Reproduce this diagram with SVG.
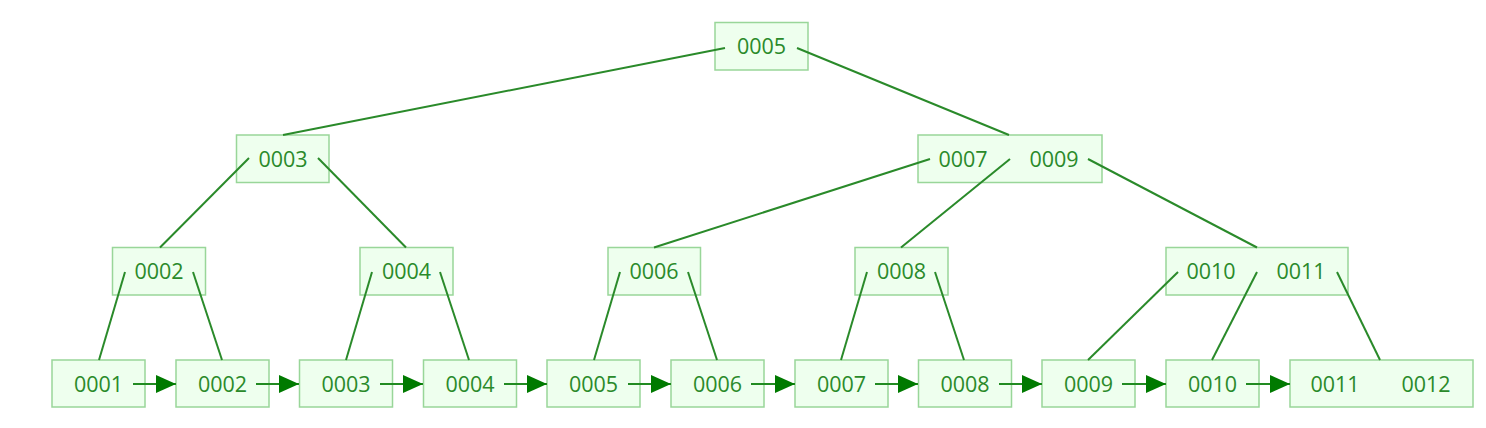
<svg xmlns="http://www.w3.org/2000/svg" width="1486" height="428" viewBox="0 0 1486 428">
<style>
.box{fill:#eeffee;stroke:#99d699;stroke-width:1.5}
.t{font-family:"Open Sans","Noto Sans","DejaVu Sans",sans-serif;font-size:21.5px;fill:#2a8a2a;text-anchor:middle}
.e{stroke:#2a8a2a;stroke-width:2;fill:none}
.a{stroke:#228b22;stroke-width:2;fill:none;marker-end:url(#ah)}
</style>
<defs>
<marker id="ah" markerUnits="userSpaceOnUse" markerWidth="21" markerHeight="20" refX="20" refY="10" orient="auto">
<path d="M0,1 L20,10 L0,19 Z" fill="#007a00"/>
</marker>
</defs>
<rect width="1486" height="428" fill="#ffffff"/>
<g id="n_root"><rect class="box" x="715" y="22.5" width="93" height="47.5"/><text class="t" x="761.5" y="54">0005</text></g>
<g id="n_0003"><rect class="box" x="236.5" y="135" width="92.5" height="47.5"/><text class="t" x="283" y="166.5">0003</text></g>
<g id="n_0007_0009"><rect class="box" x="918" y="135" width="184" height="47.5"/><text class="t" x="963" y="166.5">0007</text><text class="t" x="1054" y="166.5">0009</text></g>
<g id="n_0002"><rect class="box" x="112.5" y="247.5" width="93" height="47.5"/><text class="t" x="159" y="279">0002</text></g>
<g id="n_0004"><rect class="box" x="360" y="247.5" width="93" height="47.5"/><text class="t" x="406.5" y="279">0004</text></g>
<g id="n_0006"><rect class="box" x="608" y="247.5" width="92.5" height="47.5"/><text class="t" x="654" y="279">0006</text></g>
<g id="n_0008"><rect class="box" x="855" y="247.5" width="93" height="47.5"/><text class="t" x="901.5" y="279">0008</text></g>
<g id="n_0010_0011"><rect class="box" x="1166" y="247.5" width="182" height="47.5"/><text class="t" x="1211" y="279">0010</text><text class="t" x="1301" y="279">0011</text></g>
<g id="l_0001"><rect class="box" x="52" y="360" width="93" height="47"/><text class="t" x="98.5" y="391.5">0001</text></g>
<g id="l_0002"><rect class="box" x="176" y="360" width="93" height="47"/><text class="t" x="222.5" y="391.5">0002</text></g>
<g id="l_0003"><rect class="box" x="299.5" y="360" width="93" height="47"/><text class="t" x="346" y="391.5">0003</text></g>
<g id="l_0004"><rect class="box" x="423.5" y="360" width="93" height="47"/><text class="t" x="470" y="391.5">0004</text></g>
<g id="l_0005"><rect class="box" x="547" y="360" width="93" height="47"/><text class="t" x="593.5" y="391.5">0005</text></g>
<g id="l_0006"><rect class="box" x="671" y="360" width="93" height="47"/><text class="t" x="717.5" y="391.5">0006</text></g>
<g id="l_0007"><rect class="box" x="795" y="360" width="93" height="47"/><text class="t" x="841.5" y="391.5">0007</text></g>
<g id="l_0008"><rect class="box" x="918.5" y="360" width="93" height="47"/><text class="t" x="965" y="391.5">0008</text></g>
<g id="l_0009"><rect class="box" x="1042" y="360" width="93" height="47"/><text class="t" x="1088.5" y="391.5">0009</text></g>
<g id="l_0010"><rect class="box" x="1166" y="360" width="93" height="47"/><text class="t" x="1212.5" y="391.5">0010</text></g>
<g id="l_0011_0012"><rect class="box" x="1290" y="360" width="183" height="47"/><text class="t" x="1335" y="391.5">0011</text><text class="t" x="1426" y="391.5">0012</text></g>
<g id="connectors">
<line class="e" x1="725" y1="48" x2="283" y2="135"/>
<line class="e" x1="797" y1="48" x2="1009" y2="135"/>
<line class="e" x1="249" y1="158" x2="160" y2="247.5"/>
<line class="e" x1="318" y1="158" x2="406" y2="247.5"/>
<line class="e" x1="930" y1="159" x2="654" y2="247.5"/>
<line class="e" x1="1010" y1="159" x2="901" y2="247.5"/>
<line class="e" x1="1088" y1="159" x2="1257" y2="247.5"/>
<line class="e" x1="125" y1="272" x2="99" y2="360"/>
<line class="e" x1="193" y1="272" x2="222" y2="360"/>
<line class="e" x1="372" y1="272" x2="346" y2="360"/>
<line class="e" x1="440" y1="272" x2="469" y2="360"/>
<line class="e" x1="620" y1="272" x2="594" y2="360"/>
<line class="e" x1="688" y1="272" x2="717" y2="360"/>
<line class="e" x1="867" y1="272" x2="841" y2="360"/>
<line class="e" x1="935" y1="272" x2="964" y2="360"/>
<line class="e" x1="1178" y1="272" x2="1088" y2="360"/>
<line class="e" x1="1257" y1="272" x2="1212" y2="360"/>
<line class="e" x1="1337" y1="272" x2="1380" y2="360"/>
<line class="a" x1="133" y1="384" x2="176" y2="384"/>
<line class="a" x1="256" y1="384" x2="299" y2="384"/>
<line class="a" x1="380" y1="384" x2="423" y2="384"/>
<line class="a" x1="504" y1="384" x2="547" y2="384"/>
<line class="a" x1="628" y1="384" x2="671" y2="384"/>
<line class="a" x1="751" y1="384" x2="795" y2="384"/>
<line class="a" x1="875" y1="384" x2="918" y2="384"/>
<line class="a" x1="999" y1="384" x2="1042" y2="384"/>
<line class="a" x1="1122" y1="384" x2="1166" y2="384"/>
<line class="a" x1="1246" y1="384" x2="1290" y2="384"/>
</g>
</svg>
